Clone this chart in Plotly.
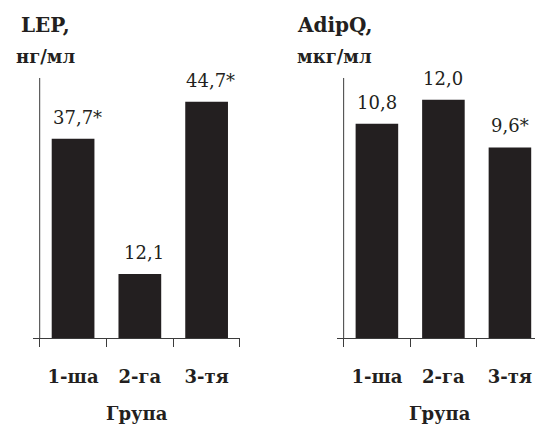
import plotly.graph_objects as go

groups = ["1-ша", "2-га", "3-тя"]
lep_values = [37.7, 12.1, 44.7]
lep_labels = ["37,7*", "12,1", "44,7*"]
adipq_values = [10.8, 12.0, 9.6]
adipq_labels = ["10,8", "12,0", "9,6*"]
x_title = "Група"
lep_title = ["LEP,", "нг/мл"]
adipq_title = ["AdipQ,", "мкг/мл"]

INK = "#231f20"
AX = "#3c3c3c"
SERIF = "DejaVu Serif"
xpos = list(range(len(groups)))

fig = go.Figure()
fig.add_trace(go.Bar(x=xpos, y=lep_values, width=0.64, marker=dict(color=INK, line=dict(width=0)),
                     xaxis="x", yaxis="y", hoverinfo="skip"))
fig.add_trace(go.Bar(x=xpos, y=adipq_values, width=0.64, marker=dict(color=INK, line=dict(width=0)),
                     xaxis="x2", yaxis="y2", hoverinfo="skip"))

ydom = [0.2047, 0.8165]
xaxis_common = dict(
    showline=True, linecolor=AX, linewidth=1, showgrid=False, zeroline=False,
    tickvals=xpos, ticktext=groups, ticks="", ticklabelstandoff=22,
    tickfont=dict(family=SERIF, size=18, color=INK, weight="bold"),
    minor=dict(tickvals=[-0.5, 0.5, 1.5, 2.5], ticks="outside", ticklen=8, tickcolor=AX, tickwidth=1),
    fixedrange=True,
)
fig.update_layout(
    width=535, height=425, margin=dict(l=0, r=0, t=0, b=0),
    paper_bgcolor="white", plot_bgcolor="white", showlegend=False,
    xaxis=dict(domain=[0.0617, 0.4486], range=[-0.6, 2.5], anchor="y", **xaxis_common),
    yaxis=dict(domain=ydom, range=[0, 49.2], visible=False, anchor="x", fixedrange=True),
    xaxis2=dict(domain=[0.6299, 1.0], range=[-0.6, 2.377], anchor="y2", **xaxis_common),
    yaxis2=dict(domain=ydom, range=[0, 13.1], visible=False, anchor="x2", fixedrange=True),
)

# y-axis lines at the first category boundary
for xr, yr in (("x", "y"), ("x2", "y2")):
    fig.add_shape(type="line", xref=xr, yref=f"{yr} domain", x0=-0.5, x1=-0.5, y0=0, y1=1,
                  line=dict(color=AX, width=1))

# value labels
for xr, yr, vals, labs, xs in (("x", "y", lep_values, lep_labels, 4), ("x2", "y2", adipq_values, adipq_labels, 0)):
    for xi, v, t in zip(xpos, vals, labs):
        fig.add_annotation(x=xi, y=v, xref=xr, yref=yr, text=t, showarrow=False,
                           yanchor="bottom", yshift=9, xshift=xs,
                           font=dict(family=SERIF, size=18, color=INK))
    fig.add_annotation(x=1, y=ydom[0], xref=xr, yref="paper", text=x_title, showarrow=False,
                       yanchor="middle", yshift=-75, xshift=-3,
                       font=dict(family=SERIF, size=18, color=INK, weight="bold"))

# y titles
for cx, lines in ((45 / 535, lep_title), (334 / 535, adipq_title)):
    fig.add_annotation(x=cx, y=1 - 25 / 425, xref="paper", yref="paper", text=lines[0], showarrow=False,
                       xanchor="center", yanchor="middle",
                       font=dict(family=SERIF, size=20, color=INK, weight="bold"))
    fig.add_annotation(x=cx, y=1 - 56 / 425, xref="paper", yref="paper", text=lines[1], showarrow=False,
                       xanchor="center", yanchor="middle",
                       font=dict(family=SERIF, size=18, color=INK, weight="bold"))

fig.write_html("out.html", config={"displayModeBar": False},
               post_script="document.body.style.margin='0';document.body.style.overflow='hidden';")
